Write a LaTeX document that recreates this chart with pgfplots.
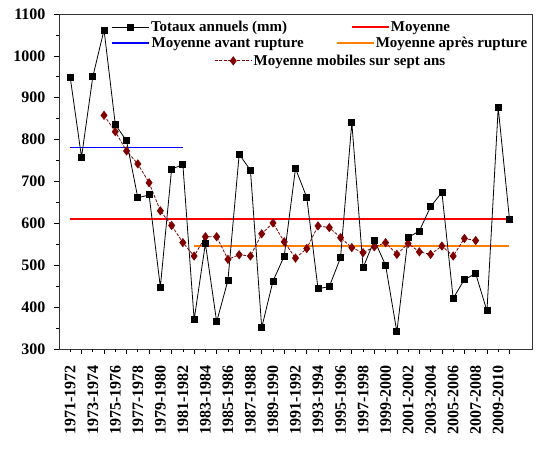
\documentclass[border=0pt]{standalone}
\usepackage{fontspec}
\setmainfont{Liberation Serif}
\usepackage{pgfplots}
\pgfplotsset{compat=1.18}
\definecolor{maroonA}{RGB}{128,0,0}
\definecolor{orangeA}{RGB}{255,128,0}
\definecolor{redA}{RGB}{255,0,0}
\definecolor{blueA}{RGB}{0,0,255}
\pgfplotsset{legend image code/.code={\draw[mark repeat=2,mark phase=2,#1] plot coordinates {(0pt,0pt) (18.5pt,0pt) (37pt,0pt)};}}
\pgfplotsset{legaxis/.style={scale only axis, width=473pt, height=335pt, hide axis,
  xmin=0, xmax=1, ymin=0, ymax=1,
  legend style={draw=none, fill=none, font=\fontsize{15}{18}\selectfont\bfseries,
    inner sep=0pt, nodes={inner sep=1.5pt}, anchor=west},
  legend cell align=left}}
\begin{document}
\begin{tikzpicture}
\useasboundingbox (-59pt,-103pt) rectangle (480pt,349pt);
\begin{axis}[
  scale only axis, width=473pt, height=335pt,
  xmin=-1, xmax=41, ymin=300, ymax=1100,
  ytick={300,400,...,1100}, minor y tick num=1,
  xtick={1,3,...,39}, xticklabels={},
  extra x ticks={0,2,...,38},
  extra x tick labels={1971-1972,1973-1974,1975-1976,1977-1978,1979-1980,1981-1982,1983-1984,1985-1986,1987-1988,1989-1990,1991-1992,1993-1994,1995-1996,1997-1998,1999-2000,2001-2002,2003-2004,2005-2006,2007-2008,2009-2010},
  extra x tick style={major tick length=3pt},
  xticklabel style={rotate=90, anchor=east, font=\fontsize{16}{19}\selectfont\bfseries},
  xticklabel shift=10pt,
  yticklabel shift=5pt,
  tick align=outside, xtick pos=left, ytick pos=left,
  major tick length=5pt, minor tick length=3pt,
  tick style={black, line width=0.7pt},
  yticklabel style={font=\fontsize{16}{19}\selectfont\bfseries},
  /pgf/number format/assume math mode=true,
  /pgf/number format/1000 sep={},
  axis line style={line width=0.8pt, black!80},
]
\addplot[blueA, line width=1.4pt] coordinates {(0,781.7) (10,781.7)};
\addplot[redA, line width=1.4pt] coordinates {(0,610.6) (39,610.6)};
\addplot[orangeA, line width=1.4pt] coordinates {(11,545.7) (39,545.7)};
\addplot[maroonA, line width=0.8pt, dash pattern=on 3pt off 1.5pt, mark=diamond*, mark size=4pt,
  mark options={solid, fill=maroonA}] coordinates {
(3,858) (4,819) (5,773) (6,742) (7,697) (8,630) (9,595) (10,554) (11,522) (12,568)
(13,568) (14,514) (15,525) (16,522) (17,575) (18,601) (19,556) (20,517) (21,540) (22,594)
(23,590) (24,566) (25,542) (26,530) (27,544) (28,554) (29,526) (30,552) (31,532) (32,526)
(33,546) (34,522) (35,564) (36,559)};
\addplot[black, line width=0.8pt, mark=square*, mark size=3pt, mark options={fill=black}] coordinates {
(0,948) (1,758) (2,950) (3,1062) (4,836) (5,797) (6,661) (7,668) (8,448) (9,730)
(10,740) (11,370) (12,552) (13,365) (14,464) (15,765) (16,727) (17,351) (18,462) (19,522)
(20,731) (21,662) (22,444) (23,449) (24,518) (25,841) (26,494) (27,560) (28,500) (29,341)
(30,566) (31,582) (32,640) (33,674) (34,421) (35,466) (36,480) (37,391) (38,876) (39,610)};
\end{axis}
\begin{axis}[legaxis, legend style={at={(axis description cs:0.111,0.961)}}]
\addlegendimage{black, line width=0.8pt, mark=square*, mark size=3pt, mark options={fill=black}}
\addlegendentry{Totaux annuels (mm)}
\end{axis}
\begin{axis}[legaxis, legend style={at={(axis description cs:0.617,0.961)}}]
\addlegendimage{redA, line width=1.4pt}
\addlegendentry{Moyenne}
\end{axis}
\begin{axis}[legaxis, legend style={at={(axis description cs:0.111,0.913)}}]
\addlegendimage{blueA, line width=1.4pt}
\addlegendentry{Moyenne avant rupture}
\end{axis}
\begin{axis}[legaxis, legend style={at={(axis description cs:0.585,0.913)}}]
\addlegendimage{orangeA, line width=1.4pt}
\addlegendentry{Moyenne après rupture}
\end{axis}
\begin{axis}[legaxis, legend style={at={(axis description cs:0.328,0.86)}}]
\addlegendimage{maroonA, line width=0.8pt, dash pattern=on 3pt off 1.5pt, mark=diamond*, mark size=4pt, mark options={solid, fill=maroonA}}
\addlegendentry{Moyenne mobiles sur sept ans}
\end{axis}
\end{tikzpicture}
\end{document}
